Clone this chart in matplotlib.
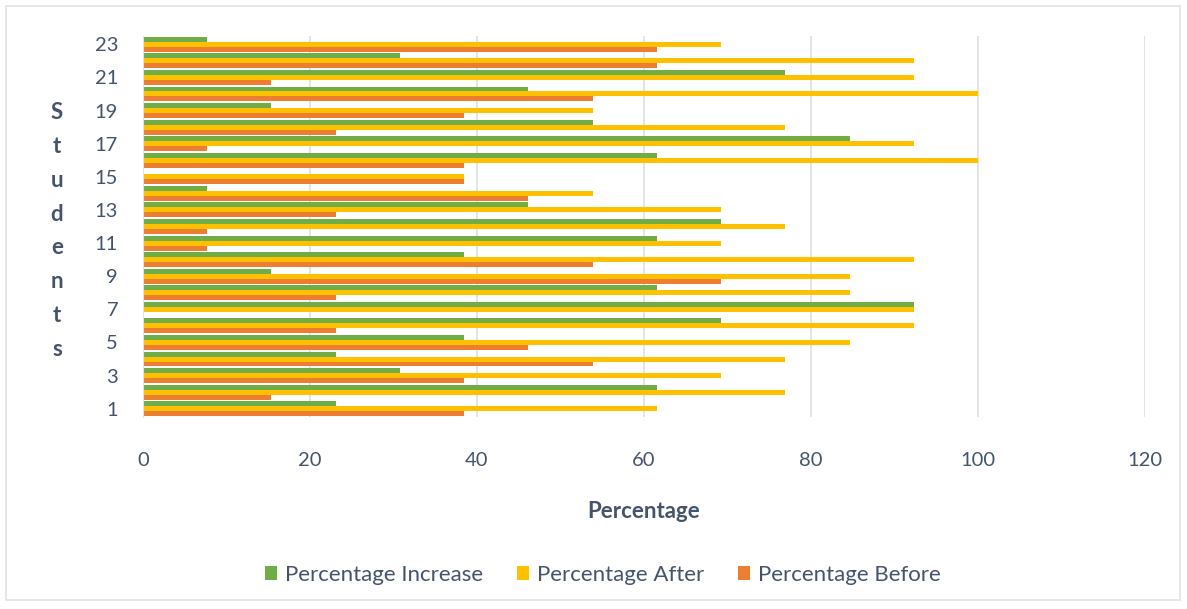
import matplotlib.pyplot as plt
from matplotlib.patches import Rectangle
import numpy as np

# students 1..23, values in percent (multiples of 1/13)
students = list(range(1, 24))
pct_before = [38.46, 15.38, 38.46, 53.85, 46.15, 23.08, 0.00, 23.08, 69.23, 53.85,
              7.69, 7.69, 23.08, 46.15, 38.46, 38.46, 7.69, 23.08, 38.46, 53.85,
              15.38, 61.54, 61.54]
pct_after = [61.54, 76.92, 69.23, 76.92, 84.62, 92.31, 92.31, 84.62, 84.62, 92.31,
             69.23, 76.92, 69.23, 53.85, 38.46, 100.00, 92.31, 76.92, 53.85, 100.00,
             92.31, 92.31, 69.23]
pct_increase = [23.08, 61.54, 30.77, 23.08, 38.46, 69.23, 92.31, 61.54, 15.38, 38.46,
                61.54, 69.23, 46.15, 7.69, 0.00, 61.54, 84.62, 53.85, 15.38, 46.15,
                76.92, 30.77, 7.69]

TXT = '#44546A'
GRID = '#dfe2e6'
plt.rcParams['font.family'] = ['Lato', 'DejaVu Sans']

fig = plt.figure(figsize=(11.87, 6.09), dpi=100)
fig.patches.append(Rectangle((6/1187, 9/609), 1174/1187, 594/609, transform=fig.transFigure,
                             fill=False, edgecolor=GRID, lw=1.2))

ax = fig.add_axes([143/1187, 1-417/609, 1002/1187, 381/609])
y = np.array(students)
h = 0.3
ax.barh(y - h, pct_before, height=h, color='#ED7D31', label='Percentage Before')
ax.barh(y, pct_after, height=h, color='#FFC000', label='Percentage After')
ax.barh(y + h, pct_increase, height=h, color='#70AD47', label='Percentage Increase')

ax.set_xlim(0, 120)
ax.set_ylim(0.5, 23.5)
ax.set_xticks(range(0, 121, 20))
ax.set_yticks(students[::2])
ax.tick_params(length=0, labelsize=14.5, labelcolor=TXT)
ax.tick_params(axis='x', pad=25)
ax.tick_params(axis='y', pad=18)
ax.xaxis.grid(True, color=GRID, lw=1.3)
ax.set_axisbelow(True)
for s in ['top', 'right', 'bottom']:
    ax.spines[s].set_visible(False)
ax.spines['left'].set_color(GRID)

ax.set_xlabel('Percentage', fontsize=16, fontweight='bold', color=TXT, labelpad=23)
fig.text(57/1187, 1-231/609, '\n'.join('Students'), ha='center', va='center',
         fontsize=16, fontweight='bold', color=TXT, linespacing=1.76)

handles, labels = ax.get_legend_handles_labels()
fig.legend(handles[::-1], labels[::-1], loc='center', bbox_to_anchor=(0.508, 1-575/609),
           ncol=3, frameon=False, fontsize=16, labelcolor=TXT, handlelength=0.55,
           handleheight=0.55, handletextpad=0.36, columnspacing=1.5)

fig.savefig('out.png', dpi=100)
